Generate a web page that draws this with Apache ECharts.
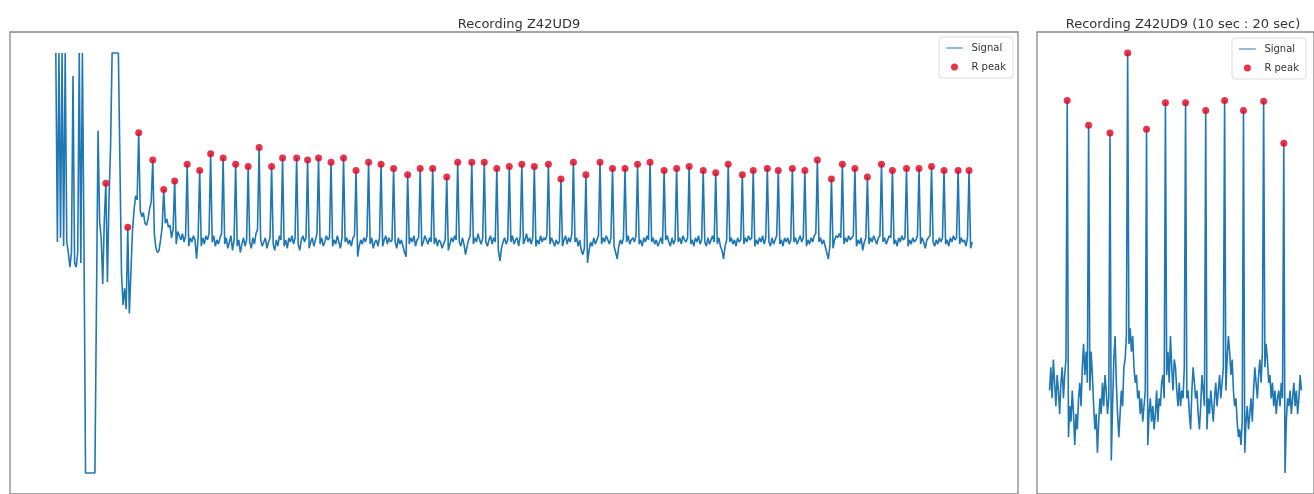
<!DOCTYPE html>
<html>
<head>
<meta charset="utf-8">
<script src="https://cdn.jsdelivr.net/npm/echarts@6/dist/echarts.min.js"></script>
<style>
  html, body { margin: 0; padding: 0; background: #ffffff; }
  #chart { width: 1314px; height: 494px; }
</style>
</head>
<body>
<div id="chart"></div>
<script>
// ---------------- DATA ----------------
const titles = ['Recording Z42UD9', 'Recording Z42UD9 (10 sec : 20 sec)'];
const legendNames = ['Signal', 'R peak'];

// Full recording, sampled at fsLeft (samples per second), arbitrary amplitude units
const fsLeft = 10;
const signalLeft = [
  100, 10, 100, 12, 100, 8, 100, 10, 5, -2, 5, 89, 0, -2, 5, 100, 0, 100, 10,   // 0-18
  -100, -100, -100, -100, -100, -100, -100, -100,                                // 19-26
  63, 20, 12, -10, 20,                                                           // 27-31
  38, -9, 30, 55, 100, 100, 100, 100, 100, 100, -5, -20, -12, -22,               // 32-45
  17, -24, -5, 15, 25, 32, 30,                                                   // 46-52
  62, 25, 22, 24, 19, 18, 21, 26, 29,                                            // 53
  49, 14, 7, 5, 6, 11, 17,                                                       // 62
  35, 19, 21, 17, 18, 12, 16,                                                    // 69
  39, 9, 15, 13, 11, 14, 10, 13,                                                 // 76
  47, 8, 12, 10, 13, 11, 2, 12,                                                  // 84
  44, 8, 12, 9, 13, 11, 14,                                                      // 92
  52, 10, 13, 8, 11, 9, 12, 14,                                                  // 99
  50, 9, 12, 7, 10, 13, 6, 11,                                                   // 107
  47, 8, 11, 5, 9, 12, 8, 11,                                                    // 115
  46, 10, 7, 12, 9, 14, 16,                                                      // 123
  55, 11, 8, 10, 12, 7, 10, 12,                                                  // 130
  46, 9, 6, 11, 8, 13, 11,                                                       // 138
  50, 8, 11, 7, 12, 10, 13, 9, 12,                                               // 145
  50, 9, 6, 11, 13, 10, 12,                                                      // 154
  49, 7, 10, 12, 8, 11, 14,                                                      // 161
  50, 9, 12, 8, 10, 13, 11, 12,                                                  // 168
  48, 8, 11, 9, 13, 10, 7, 12,                                                   // 176
  50, 10, 12, 9, 11, 8, 12, 13,                                                  // 184
  44, 3, 8, 11, 9, 12, 10, 13,                                                   // 192
  48, 9, 12, 7, 10, 11, 8, 12,                                                   // 200
  47, 8, 11, 13, 9, 12, 10, 11,                                                  // 208
  45, 10, 7, 12, 9, 11, 8, 5, 3,                                                 // 216
  42, 9, 12, 10, 13, 8, 11, 12,                                                  // 225
  45, 8, 10, 13, 11, 9, 12, 10,                                                  // 233
  45, 9, 12, 8, 11, 10, 7, 9, 11,                                                // 241
  41, 6, 9, 12, 10, 13, 11,                                                      // 250
  48, 10, 8, 12, 9, 4, 8, 11, 13,                                                // 257
  48, 9, 12, 10, 14, 11, 9, 12,                                                  // 266
  48, 10, 8, 11, 13, 9, 12, 10,                                                  // 274
  45, 6, 1, 7, 10, 12, 9, 11,                                                    // 282
  46, 10, 13, 9, 11, 12, 8, 13,                                                  // 290
  47, 9, 11, 14, 10, 12, 9, 12,                                                  // 298
  46, 8, 11, 9, 13, 10, 12, 11, 13,                                              // 306
  47, 9, 12, 10, 8, 11, 9, 10,                                                   // 315
  40, 8, 11, 13, 9, 12, 10, 14,                                                  // 323
  48, 10, 12, 8, 11, 6, 4, 7,                                                    // 331
  42, 0, 6, 10, 8, 12, 9, 11, 13,                                                // 339
  48, 9, 12, 10, 13, 11, 9, 12,                                                  // 348
  45, 8, 5, 2, 8, 11, 9, 12,                                                     // 356
  45, 10, 13, 9, 11, 12, 10, 13,                                                 // 364
  47, 9, 11, 8, 12, 10, 13, 11,                                                  // 372
  48, 10, 12, 9, 11, 8, 10, 12, 9,                                               // 380
  44, 11, 13, 10, 8, 12, 9, 11,                                                  // 389
  45, 10, 12, 9, 13, 11, 10, 12,                                                 // 397
  46, 9, 11, 8, 12, 10, 13, 9, 11,                                               // 405
  44, 10, 8, 12, 9, 11, 13, 10,                                                  // 414
  43, 9, 12, 8, 6, 2, 8, 11,                                                     // 422
  47, 10, 12, 9, 11, 8, 12, 10, 11,                                              // 430
  42, 9, 12, 10, 13, 11, 12,                                                     // 439
  44, 8, 11, 9, 12, 10, 13, 9, 12,                                               // 446
  45, 10, 8, 12, 9, 11, 13,                                                      // 455
  44, 9, 11, 8, 12, 10, 12, 9, 11,                                               // 462
  45, 10, 12, 9, 11, 13, 10, 12,                                                 // 471
  44, 8, 11, 9, 12, 10, 13, 14,                                                  // 479
  49, 10, 12, 9, 11, 8, 5, 2, 8,                                                 // 487
  40, 7, 11, 13, 12, 14, 12,                                                     // 496
  47, 9, 12, 10, 13, 11, 12, 13,                                                 // 503
  45, 8, 11, 9, 12, 6, 10, 12,                                                   // 511
  41, 9, 12, 10, 13, 11, 9, 12, 13,                                              // 519
  47, 10, 12, 9, 11, 13, 12,                                                     // 528
  44, 9, 11, 8, 12, 10, 13, 11, 12,                                              // 535
  45, 8, 11, 9, 12, 10, 11, 13,                                                  // 544
  45, 9, 12, 10, 7, 11, 12, 13,                                                  // 552
  46, 10, 8, 11, 9, 12, 10, 12,                                                  // 560
  44, 9, 11, 8, 12, 10, 13, 11, 12,                                              // 568
  44, 9, 12, 10, 11, 8, 12,                                                      // 577
  44, 7, 10                                                                      // 584-586
];
const rpeaksLeft = [
  32, 46, 53, 62, 69, 76, 84, 92, 99, 107, 115, 123, 130, 138, 145, 154, 161, 168,
  176, 184, 192, 200, 208, 216, 225, 233, 241, 250, 257, 266, 274, 282, 290, 298,
  306, 315, 323, 331, 339, 348, 356, 364, 372, 380, 389, 397, 405, 414, 422, 430,
  439, 446, 455, 462, 471, 479, 487, 496, 503, 511, 519, 528, 535, 544, 552, 560,
  568, 577, 584
];

// Zoomed window 10 s - 20 s, sampled at fsRight
const fsRight = 20;
const startRight = 10;
const signalRight = [
  12, 15, 11, 16, 13, 10, 14, 12, 9, 13, 15, 11, 14, 16,                 // 0-13
  49.3, 6, 10, 8, 12, 9, 5, 9, 7, 11, 13, 10, 15, 18, 14, 17, 13,        // 14
  46.1, 12, 17, 14, 10, 7, 9, 4, 8, 11, 9, 13, 10, 14, 12, 9, 11,        // 31
  45.1, 3, 10, 16, 19, 13, 9, 6, 9, 12, 10, 15, 16, 19,                  // 48
  55.4, 18, 20, 17, 19, 15, 13, 14, 11, 12, 9, 11, 8, 10, 12,            // 62
  45.6, 5, 9, 11, 8, 10, 7, 9, 12, 8, 11, 10, 13, 14, 11,                // 77
  49.0, 14, 17, 13, 19, 15, 12, 16, 15, 12, 10, 13, 10, 12, 11, 15,      // 92
  49.0, 11, 12, 9, 7, 12, 15, 13, 11, 12, 9, 7, 10, 14, 12, 10,          // 108
  48.0, 7, 11, 9, 12, 10, 8, 11, 13, 10, 12, 14, 11, 13, 15,             // 124
  49.3, 12, 16, 19, 17, 14, 16, 12, 10, 11, 8, 6, 7, 5, 8,               // 139
  48.0, 4, 8, 10, 7, 9, 11, 8, 12, 15, 13, 11, 14, 16, 13, 17,           // 154
  49.2, 15, 18, 16, 13, 14, 11, 13, 10, 12, 9, 11, 12, 10, 13, 11,       // 170
  43.8, 1.4, 8, 11, 10, 12, 9, 11, 13, 10, 12, 9, 11, 14, 12             // 186-200
];
const rpeaksRight = [14, 31, 48, 62, 77, 92, 108, 124, 139, 154, 170, 186];

// ---------------- BUILD ----------------
const lineColor = '#1f77b4';
const peakColor = '#e4001e';
const font = 'DejaVu Sans';
// thin horizontal bar inside a taller invisible box -> a plain line handle
const lineIcon = 'path://M0,0M0,10M0,4.3L24,4.3L24,5.7L0,5.7Z';

function toPoints(sig, fs, t0) {
  return sig.map((v, i) => [t0 + i / fs, v]);
}
function peakPoints(sig, peaks, fs, t0) {
  return peaks.map(i => [t0 + i / fs, sig[i]]);
}
function range(arr) {
  let lo = Infinity, hi = -Infinity;
  arr.forEach(v => { if (v < lo) lo = v; if (v > hi) hi = v; });
  return [lo, hi];
}
function padded(lo, hi) {
  const m = (hi - lo) * 0.05;
  return { min: lo - m, max: hi + m };
}

const leftPts = toPoints(signalLeft, fsLeft, 0);
const rightPts = toPoints(signalRight, fsRight, startRight);
const xL = padded(0, (signalLeft.length - 1) / fsLeft);
const xR = padded(startRight, startRight + (signalRight.length - 1) / fsRight);
const yLr = range(signalLeft), yL = padded(yLr[0], yLr[1]);
const yRr = range(signalRight), yR = padded(yRr[0], yRr[1]);

const hiddenAxis = { show: false, splitLine: { show: false } };

function legendFor(pos) {
  return Object.assign({
    data: [
      { name: legendNames[0], icon: lineIcon, itemStyle: { color: lineColor } },
      { name: legendNames[1], icon: 'circle', itemStyle: { color: peakColor } }
    ],
    orient: 'vertical', itemWidth: 24, itemHeight: 7, itemGap: 9,
    padding: [6, 7, 6, 7], backgroundColor: '#fff', borderColor: '#ddd', borderWidth: 1, borderRadius: 3,
    textStyle: { fontFamily: font, fontSize: 10, color: '#333' }, selectedMode: false
  }, pos);
}

const chart = echarts.init(document.getElementById('chart'), null, { renderer: 'canvas' });
chart.setOption({
  animation: false,
  backgroundColor: '#ffffff',
  textStyle: { fontFamily: font },
  title: [
    { text: titles[0], left: 514, top: 13, textAlign: 'center',
      textStyle: { fontFamily: font, fontSize: 13, fontWeight: 'normal', color: '#333' } },
    { text: titles[1], left: 1178, top: 13, textAlign: 'center',
      textStyle: { fontFamily: font, fontSize: 13, fontWeight: 'normal', color: '#333' } }
  ],
  grid: [
    { left: 10, right: 296, top: 32, bottom: -4, show: true, borderColor: '#888', borderWidth: 1.3, backgroundColor: 'transparent' },
    { left: 1037, right: -4, top: 32, bottom: -4, show: true, borderColor: '#888', borderWidth: 1.3, backgroundColor: 'transparent' }
  ],
  xAxis: [
    Object.assign({ type: 'value', gridIndex: 0, min: xL.min, max: xL.max }, hiddenAxis),
    Object.assign({ type: 'value', gridIndex: 1, min: xR.min, max: xR.max }, hiddenAxis)
  ],
  yAxis: [
    Object.assign({ type: 'value', gridIndex: 0, min: yL.min, max: yL.max }, hiddenAxis),
    Object.assign({ type: 'value', gridIndex: 1, min: yR.min, max: yR.max }, hiddenAxis)
  ],
  legend: [
    legendFor({ right: 301, top: 37 }),
    legendFor({ left: 1232, top: 38 })
  ],
  series: [
    { name: legendNames[0], type: 'line', xAxisIndex: 0, yAxisIndex: 0, data: leftPts,
      symbol: 'none', showSymbol: false, lineStyle: { color: lineColor, width: 1.6 }, itemStyle: { color: lineColor } },
    { name: legendNames[1], type: 'scatter', xAxisIndex: 0, yAxisIndex: 0,
      data: peakPoints(signalLeft, rpeaksLeft, fsLeft, 0),
      symbol: 'circle', symbolSize: 7, itemStyle: { color: peakColor }, z: 3 },
    { name: legendNames[0], type: 'line', xAxisIndex: 1, yAxisIndex: 1, data: rightPts,
      symbol: 'none', showSymbol: false, lineStyle: { color: lineColor, width: 1.6 }, itemStyle: { color: lineColor } },
    { name: legendNames[1], type: 'scatter', xAxisIndex: 1, yAxisIndex: 1,
      data: peakPoints(signalRight, rpeaksRight, fsRight, startRight),
      symbol: 'circle', symbolSize: 7, itemStyle: { color: peakColor }, z: 3 }
  ]
});
</script>
</body>
</html>
